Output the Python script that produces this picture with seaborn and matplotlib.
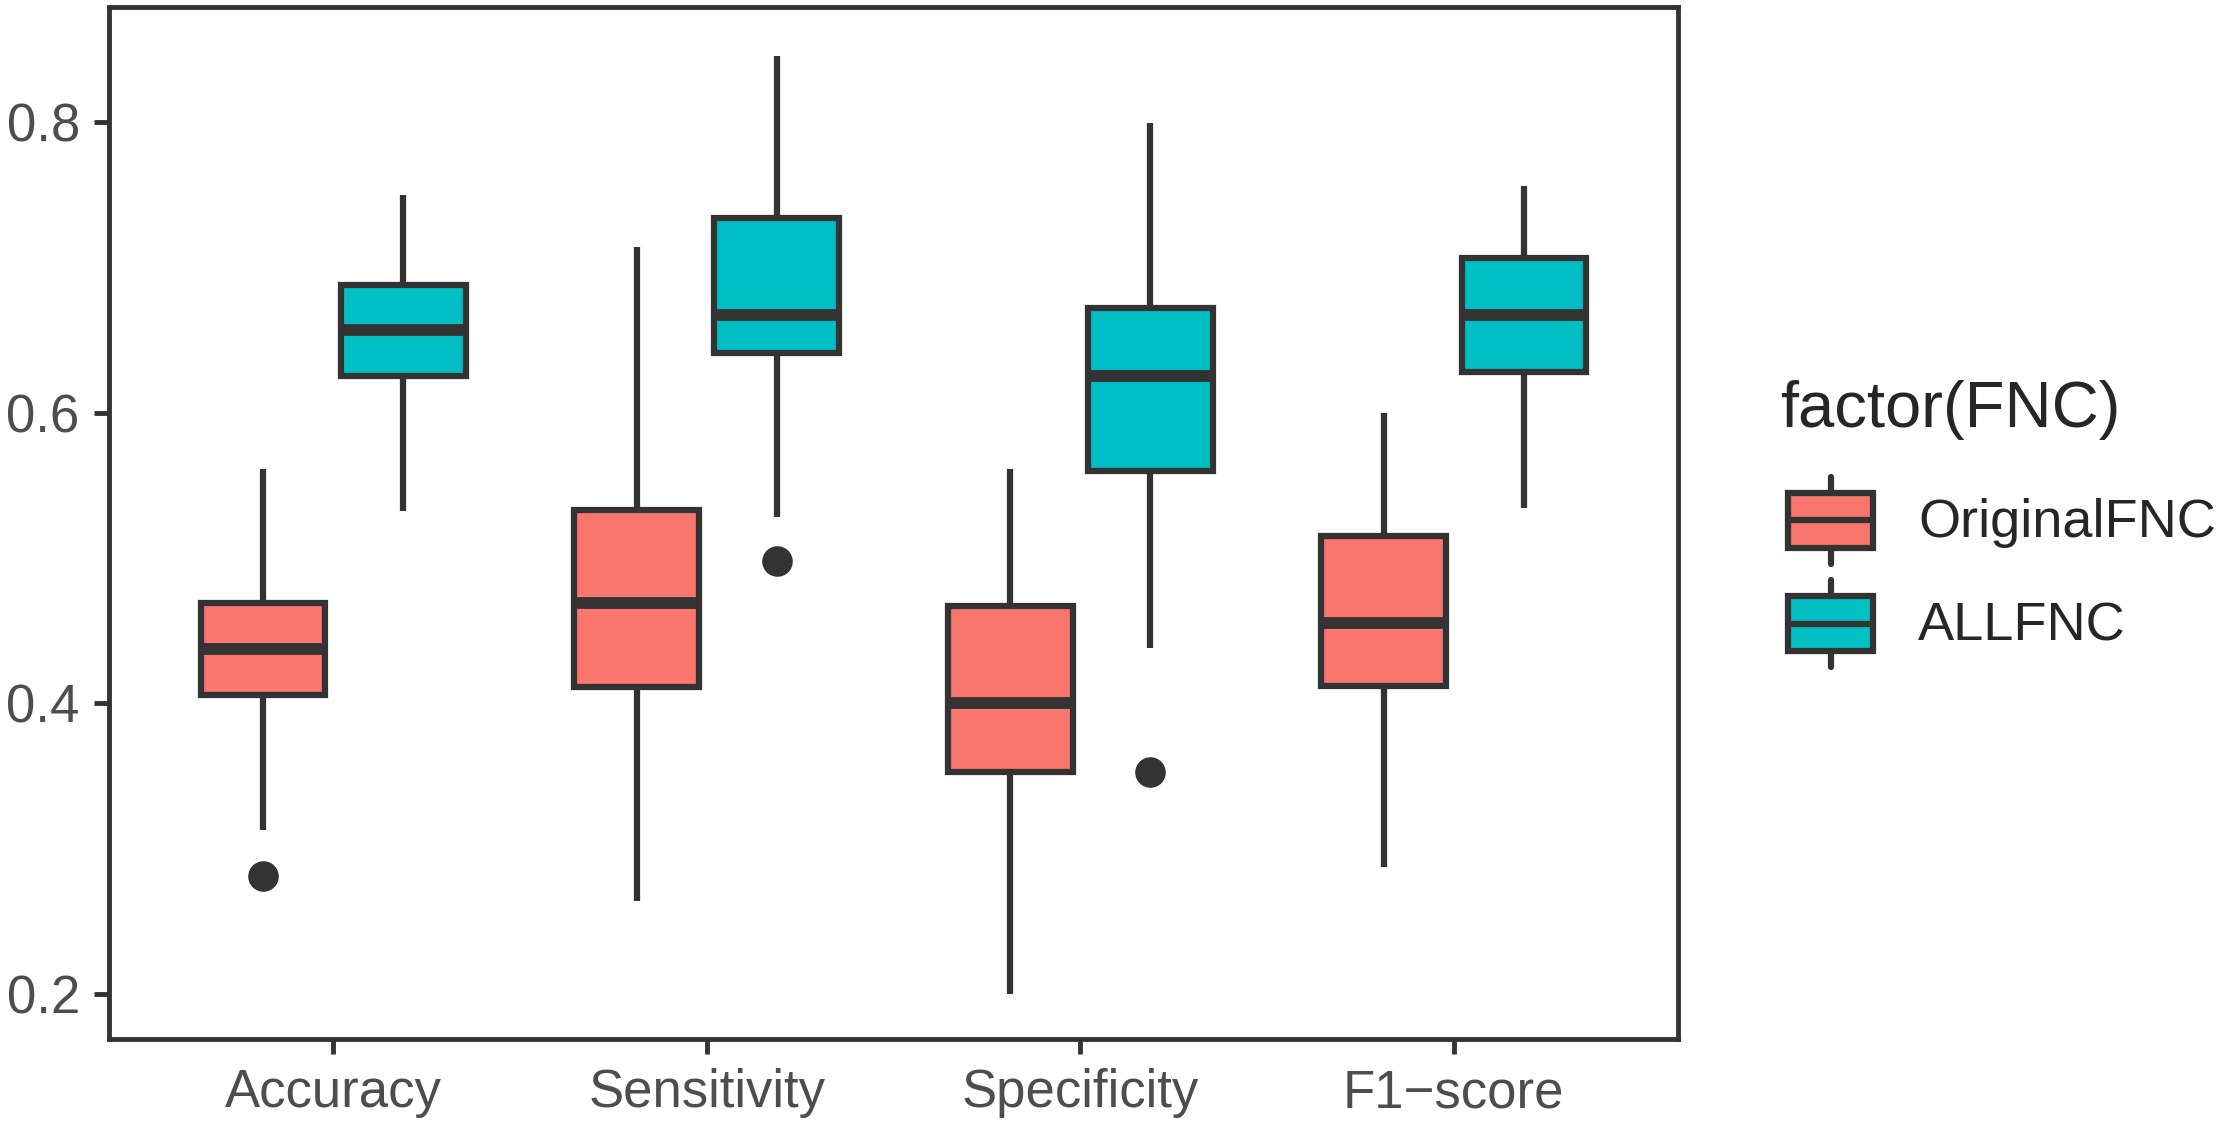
import numpy as np
import pandas as pd
import matplotlib
matplotlib.use("Agg")
import matplotlib.pyplot as plt
import seaborn as sns
from matplotlib.patches import Rectangle, Patch
from matplotlib.lines import Line2D
from matplotlib.legend_handler import HandlerBase

# Values (one list per metric and FNC set)
metrics = ["Accuracy", "Sensitivity", "Specificity", "F1-score"]
tick_labels = ["Accuracy", "Sensitivity", "Specificity", "F1\u2212score"]
fnc_levels = ["OriginalFNC", "ALLFNC"]

acc_orig = [0.281, 0.313, 0.406, 0.406, 0.437, 0.437, 0.469, 0.469, 0.561]
acc_all = [0.532, 0.625, 0.657, 0.688, 0.750]
sens_orig = [0.264, 0.411, 0.469, 0.533, 0.714]
sens_all = [0.498, 0.528, 0.641, 0.641, 0.667, 0.667, 0.734, 0.734, 0.845]
spec_orig = [0.200, 0.353, 0.400, 0.467, 0.561]
spec_all = [0.353, 0.438, 0.560, 0.560, 0.625, 0.625, 0.672, 0.672, 0.799]
f1_orig = [0.287, 0.412, 0.455, 0.515, 0.600]
f1_all = [0.534, 0.628, 0.667, 0.706, 0.756]

groups = {
    ("Accuracy", "OriginalFNC"): acc_orig,
    ("Accuracy", "ALLFNC"): acc_all,
    ("Sensitivity", "OriginalFNC"): sens_orig,
    ("Sensitivity", "ALLFNC"): sens_all,
    ("Specificity", "OriginalFNC"): spec_orig,
    ("Specificity", "ALLFNC"): spec_all,
    ("F1-score", "OriginalFNC"): f1_orig,
    ("F1-score", "ALLFNC"): f1_all,
}

rows = []
for (metric, fnc), vals in groups.items():
    for v in vals:
        rows.append({"metric": metric, "FNC": fnc, "value": v})
df = pd.DataFrame(rows)

pal = {"OriginalFNC": "#F8766D", "ALLFNC": "#00BFC4"}
EDGE = "#333333"

sns.set_style("white")
plt.rcParams["font.family"] = ["Liberation Sans", "DejaVu Sans"]

fig = plt.figure(figsize=(22.17, 11.27), dpi=100)
ax = fig.add_axes([109 / 2217, 88 / 1127, (1678 - 109) / 2217, (1039 - 7) / 1127])

sns.boxplot(data=df, x="metric", y="value", hue="FNC", order=metrics, hue_order=fnc_levels,
            palette=pal, saturation=1, width=0.75, gap=0.11, linewidth=4.5, linecolor=EDGE,
            fliersize=21, showcaps=False, legend=False,
            medianprops={"linewidth": 8.5, "color": EDGE},
            flierprops={"marker": "o", "markerfacecolor": EDGE, "markeredgecolor": EDGE},
            ax=ax)

ax.set_xlim(-0.6, 3.6)
ax.set_ylim(0.169, 0.879)
ax.set_yticks([0.2, 0.4, 0.6, 0.8])
ax.set_yticklabels(["0.2", "0.4", "0.6", "0.8"])
ax.set_xticks(range(len(metrics)))
ax.set_xticklabels(tick_labels)
ax.set_xlabel("")
ax.set_ylabel("")
ax.tick_params(axis="both", length=11, width=3.5, color=EDGE, labelsize=38,
               labelcolor="#4D4D4D", pad=10, left=True, bottom=True)
for s in ax.spines.values():
    s.set_visible(True)
    s.set_linewidth(3.5)
    s.set_color(EDGE)


# legend key drawn like ggplot's boxplot glyph
class BoxKey(HandlerBase):
    def create_artists(self, legend, orig_handle, xdescent, ydescent, width, height, fontsize, trans):
        fc = orig_handle.get_facecolor()
        x0, y0 = -xdescent, -ydescent
        lo, hi = y0 + 0.18 * height, y0 + 0.82 * height
        xm = x0 + width / 2
        wtop = Line2D([xm, xm], [hi, y0 + height], color=EDGE, lw=4.5, transform=trans)
        wbot = Line2D([xm, xm], [y0, lo], color=EDGE, lw=4.5, transform=trans)
        box = Rectangle((x0, lo), width, hi - lo, facecolor=fc, edgecolor=EDGE, lw=4.5, transform=trans)
        med = Line2D([x0, x0 + width], [y0 + height / 2] * 2, color=EDGE, lw=4.5, transform=trans)
        return [wtop, wbot, box, med]


handles = [Patch(facecolor=pal[k]) for k in fnc_levels]
leg = fig.legend(handles, fnc_levels, handler_map={Patch: BoxKey()}, loc="center left",
                 bbox_to_anchor=(1788 / 2217, 1 - 572 / 1127), frameon=False, borderpad=0,
                 borderaxespad=0, fontsize=39, handlelength=1.57, handleheight=2.085,
                 labelspacing=0.31, handletextpad=0.83)
fig.text(1780 / 2217, 1 - 427 / 1127, "factor(FNC)", fontsize=47, va="baseline", ha="left")

fig.savefig("out.png", dpi=100)
